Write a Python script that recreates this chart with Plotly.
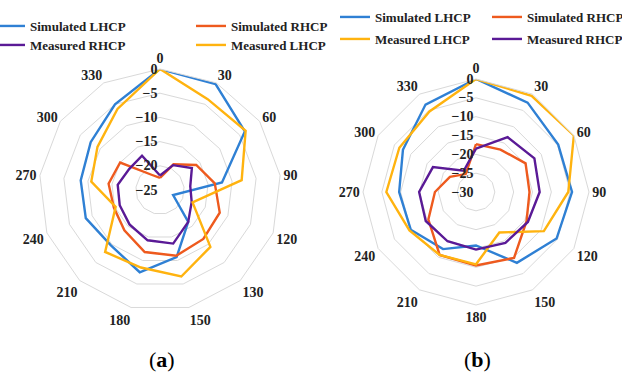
import plotly.graph_objects as go

# Angular categories (degrees) for each panel
angles_a = ['0', '30', '60', '90', '120', '130', '150', '180', '210', '240', '270', '300', '330']
angles_b = ['0', '30', '60', '90', '120', '150', '180', '210', '240', '270', '300', '330']

# Panel (a) patterns, dB
sim_lhcp_a = [0, -0.3, -3.7, -12.1, -22.1, -16.2, -10.7, -7.5, -9.7, -8.6, -8.5, -7.6, -5.0]
sim_rhcp_a = [-22.5, -19.0, -15.9, -13.6, -11.8, -11.5, -11.0, -11.8, -13.9, -14.8, -14.3, -15.0, -21.5]
meas_rhcp_a = [-22.0, -19.2, -17.0, -18.7, -18.0, -16.2, -13.6, -14.3, -15.5, -16.1, -16.2, -17.3, -17.0]
meas_lhcp_a = [0, -3.8, -3.5, -8.0, -17.8, -9.3, -6.6, -8.5, -7.9, -15.2, -10.7, -9.3, -6.1]

# Panel (b) patterns, dB
sim_lhcp_b = [0, -2.6, -4.8, -4.5, -5.3, -8.3, -15.8, -12.5, -10.0, -9.6, -7.6, -3.2]
sim_rhcp_b = [-17.3, -17.0, -14.8, -15.8, -14.5, -9.8, -10.5, -10.7, -15.4, -19.1, -22.0, -24.5]
meas_lhcp_b = [0, -0.5, 0, -5.5, -9.2, -17.6, -10.8, -10.7, -9.6, -6.2, -6.5, -5.3]
meas_rhcp_b = [-18.5, -13.2, -12.1, -13.1, -14.1, -14.4, -14.7, -14.9, -14.6, -14.9, -16.8, -23.5]

BLUE = '#2F80D4'
ORANGE = '#EE5A1E'
YELLOW = '#FFB30F'
PURPLE = '#5A1A96'
GRID = '#D9D9D9'
TXT = '#222222'
FONT = 'Liberation Serif'

W, H = 622, 380


def px_x(p):
    return p / W


def px_y(p):
    return 1 - p / H


def closed(vals, cats):
    return list(vals) + [vals[0]], list(cats) + [cats[0]]


fig = go.Figure()

series = [
    # (values, categories, name, colour, subplot, legend id)
    (sim_lhcp_a, angles_a, 'Simulated LHCP', BLUE, 'polar', 'legend'),
    (sim_rhcp_a, angles_a, 'Simulated RHCP', ORANGE, 'polar', 'legend2'),
    (meas_rhcp_a, angles_a, 'Measured RHCP', PURPLE, 'polar', 'legend3'),
    (meas_lhcp_a, angles_a, 'Measured LHCP', YELLOW, 'polar', 'legend4'),
    (sim_lhcp_b, angles_b, 'Simulated LHCP', BLUE, 'polar2', 'legend5'),
    (sim_rhcp_b, angles_b, 'Simulated RHCP', ORANGE, 'polar2', 'legend6'),
    (meas_lhcp_b, angles_b, 'Measured LHCP', YELLOW, 'polar2', 'legend7'),
    (meas_rhcp_b, angles_b, 'Measured RHCP', PURPLE, 'polar2', 'legend8'),
]

for vals, cats, name, col, sub, leg in series:
    r, th = closed(vals, cats)
    fig.add_trace(go.Scatterpolar(
        r=r, theta=th, mode='lines', name=name,
        line=dict(color=col, width=2.4),
        subplot=sub, legend=leg, showlegend=True,
    ))

# legend entry placement: (legend id, text-left px, row-centre px)
legend_pos = {
    'legend': (31, 26), 'legend2': (232, 26),
    'legend3': (31, 45), 'legend4': (232, 45),
    'legend5': (376, 17), 'legend6': (528, 17),
    'legend7': (376, 39), 'legend8': (528, 39),
}
for key, (tx, ty) in legend_pos.items():
    fig.layout[key] = dict(
        x=px_x(tx - 41), y=px_y(ty), xanchor='left', yanchor='middle',
        orientation='h', bgcolor='rgba(0,0,0,0)', itemwidth=30,
        font=dict(family=FONT, size=13, color=TXT, weight='bold'), tracegroupgap=0,
    )


def polar_axes(cx, cy, rad, rmin):
    return dict(
        domain=dict(x=[px_x(cx - rad), px_x(cx + rad)],
                    y=[px_y(cy + rad), px_y(cy - rad)]),
        gridshape='linear',
        bgcolor='white',
        angularaxis=dict(
            direction='clockwise', rotation=90, type='category',
            showgrid=False, showline=True, linecolor=GRID, linewidth=1,
            ticks='', tickfont=dict(family=FONT, size=14, color=TXT, weight='bold'),
        ),
        radialaxis=dict(
            range=[rmin, 0], dtick=5, tick0=0, angle=90, tickangle=90,
            side='counterclockwise', showline=False, ticks='',
            gridcolor=GRID, gridwidth=1,
            tickfont=dict(family=FONT, size=14, color=TXT, weight='bold'),
        ),
    )


fig.update_layout(
    width=W, height=H,
    margin=dict(l=0, r=0, t=0, b=0, autoexpand=False),
    paper_bgcolor='white',
    polar=polar_axes(160, 190, 121, -25),
    polar2=polar_axes(476, 192, 113, -30),
    annotations=[
        dict(text='(<b>a</b>)', x=px_x(162), y=px_y(359), xref='paper', yref='paper',
             xanchor='center', yanchor='middle', showarrow=False,
             font=dict(family=FONT, size=22, color='black')),
        dict(text='(<b>b</b>)', x=px_x(477), y=px_y(359), xref='paper', yref='paper',
             xanchor='center', yanchor='middle', showarrow=False,
             font=dict(family=FONT, size=22, color='black')),
    ],
)

fig.write_html('out.html')
